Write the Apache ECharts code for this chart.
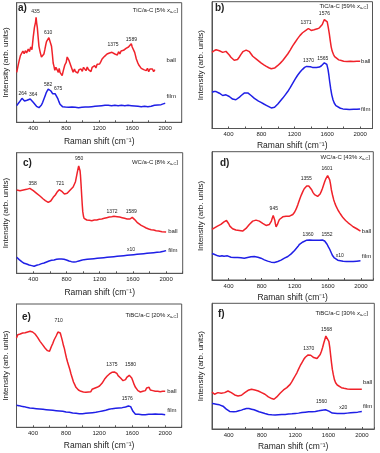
<!DOCTYPE html>
<html><head><meta charset="utf-8">
<script src="https://cdn.jsdelivr.net/npm/echarts@6/dist/echarts.min.js"></script>
<style>html,body{margin:0;padding:0;background:#fff}#c{width:380px;height:453px}</style>
</head><body><div id="c"></div>
<script>
// ---------- DATA (x = Raman shift cm-1, y = arbitrary intensity units) ----------
const xTickLabels = [400, 800, 1200, 1600, 2000];
const panelTags = ['a)', 'b)', 'c)', 'd)', 'e)', 'f)'];
const panelMaterials = ['TiC/a-C [5% ', 'TiC/a-C [59% ', 'WC/a-C [8% ', 'WC/a-C [43% ', 'TiBC/a-C [20% ', 'TiBC/a-C [30% '];

const aBall = [[200,150],[215,168],[230,185],[245,200],[260,196],[275,214],[290,206],[305,215],[320,208],[340,220],[355,212],[370,226],[385,218],[400,255],[415,285],[428,300],[435,315],[442,298],[450,284],[460,255],[470,228],[485,210],[500,196],[510,200],[520,190],[530,205],[541,218],[552,232],[561,242],[575,238],[590,254],[602,248],[612,255],[622,228],[632,205],[642,178],[652,168],[662,156],[675,165],[690,160],[705,150],[715,162],[725,150],[737,146],[751,140],[765,155],[783,172],[800,180],[812,196],[823,190],[835,185],[856,170],[870,160],[884,150],[900,160],[912,152],[924,158],[940,148],[955,158],[965,152],[980,160],[995,153],[1010,165],[1025,160],[1040,155],[1055,166],[1070,158],[1085,162],[1100,152],[1115,165],[1130,160],[1145,170],[1160,163],[1175,174],[1190,168],[1205,175],[1220,182],[1235,190],[1250,186],[1265,198],[1280,194],[1295,205],[1310,200],[1325,208],[1340,202],[1355,210],[1375,214],[1390,205],[1405,210],[1420,202],[1435,212],[1450,205],[1465,214],[1480,208],[1495,216],[1510,212],[1525,222],[1540,218],[1555,226],[1570,230],[1589,236],[1600,226],[1615,222],[1630,210],[1640,200],[1650,190],[1665,180],[1680,172],[1695,176],[1710,162],[1725,168],[1740,158],[1755,164],[1770,155],[1785,162],[1800,152],[1815,160],[1830,155],[1845,160],[1860,152],[1875,158]];
const aFilm = [[200,50],[215,56],[230,60],[245,66],[264,72],[280,68],[295,64],[310,68],[325,66],[345,70],[364,70],[380,64],[400,60],[420,54],[440,48],[455,46],[470,44],[485,48],[500,52],[515,60],[530,70],[545,80],[560,90],[572,96],[582,100],[595,102],[605,100],[615,94],[625,88],[635,86],[650,84],[665,86],[675,88],[688,80],[700,70],[712,62],[725,54],[740,50],[755,47],[770,49],[790,46],[810,48],[830,45],[850,48],[870,46],[890,48],[910,45],[930,47],[950,44],[970,47],[990,45],[1010,48],[1030,46],[1050,49],[1070,46],[1090,48],[1110,47],[1130,50],[1150,48],[1170,51],[1190,49],[1210,52],[1230,50],[1250,53],[1270,51],[1290,54],[1310,51],[1330,53],[1350,50],[1370,54],[1390,51],[1410,53],[1430,50],[1450,54],[1470,51],[1490,53],[1510,50],[1530,53],[1550,51],[1570,54],[1590,50],[1610,52],[1630,49],[1650,51],[1670,48],[1690,50],[1710,47],[1730,50],[1750,48],[1770,50],[1790,47],[1810,50],[1830,48],[1850,49],[1870,51],[1890,50],[1910,52],[1930,51],[1950,53],[1970,54],[1985,56],[2000,57]];
const aPeaks = [['435',428,332],['610',581,270],['1375',1368,232],['1589',1590,249],['264',271,87],['364',400,84],['582',581,112],['675',702,102]];
const aNames = [['ball',2073,187],['film',2073,77]];

const bBall = [[200,233],[225,238],[250,241],[270,239],[290,238],[310,235],[330,233],[350,236],[370,236],[390,230],[410,225],[430,218],[450,213],[470,209],[490,208],[510,211],[530,218],[550,226],[575,235],[595,239],[615,240],[635,238],[655,235],[675,228],[695,221],[715,216],[735,213],[765,207],[795,201],[830,195],[860,190],[890,186],[920,183],[940,183],[960,185],[980,188],[1000,193],[1030,200],[1060,208],[1090,218],[1120,228],[1150,240],[1180,253],[1210,264],[1240,275],[1270,285],[1300,293],[1320,297],[1340,300],[1355,303],[1371,306],[1390,303],[1405,300],[1420,301],[1440,302],[1460,303],[1480,305],[1505,308],[1525,312],[1540,318],[1552,326],[1565,333],[1576,336],[1588,333],[1600,326],[1612,310],[1625,290],[1637,268],[1648,250],[1660,237],[1675,227],[1690,220],[1710,215],[1740,210],[1770,208],[1800,206],[1840,205],[1880,206],[1920,205],[1960,206],[2000,206]];
const bFilm = [[200,111],[225,113],[250,113],[270,110],[290,108],[310,104],[330,101],[350,103],[370,103],[390,100],[410,98],[430,93],[450,90],[470,88],[490,88],[510,91],[530,95],[555,101],[575,106],[595,109],[615,110],[635,109],[655,106],[675,101],[695,96],[715,92],[735,88],[765,84],[795,80],[830,75],[860,71],[890,67],[920,63],[940,63],[960,65],[980,69],[1000,75],[1030,84],[1060,93],[1090,103],[1120,113],[1150,125],[1180,138],[1210,151],[1240,163],[1270,173],[1300,181],[1325,187],[1350,190],[1370,191],[1395,189],[1420,187],[1440,186],[1470,187],[1505,188],[1530,192],[1545,195],[1565,201],[1580,200],[1595,196],[1610,180],[1620,163],[1630,143],[1642,122],[1655,103],[1670,88],[1685,78],[1705,70],[1725,65],[1760,62],[1790,60],[1830,59],[1870,58],[1920,59],[1960,59],[2000,60]];
const bPeaks = [['1371',1343,323],['1576',1566,350],['1370',1372,208],['1565',1546,215]];
const bNames = [['ball',2068,205],['film',2068,58]];

const cBall = [[200,250],[220,249],[240,248],[260,250],[280,250],[300,251],[320,252],[340,254],[358,255],[380,252],[400,248],[420,244],[440,240],[460,236],[480,232],[500,228],[520,223],[545,218],[565,215],[580,213],[595,213],[610,217],[620,222],[640,228],[665,235],[685,243],[700,248],[712,251],[721,252],[735,249],[748,245],[760,242],[775,238],[790,235],[808,240],[825,245],[845,250],[865,255],[880,259],[895,265],[908,275],[920,290],[930,303],[940,315],[947,322],[952,323],[958,318],[963,308],[968,295],[975,268],[984,230],[990,205],[996,185],[1004,172],[1012,165],[1030,161],[1045,160],[1075,159],[1105,158],[1135,160],[1165,160],[1195,162],[1225,163],[1255,165],[1285,167],[1315,169],[1345,170],[1372,171],[1410,170],[1440,169],[1470,167],[1500,165],[1530,163],[1550,164],[1565,163],[1580,168],[1592,168],[1605,166],[1618,162],[1630,158],[1650,153],[1670,148],[1700,144],[1730,140],[1760,136],[1790,133],[1820,131],[1850,130],[1880,128],[1910,127],[1950,125],[2000,124]];
const cFilm = [[200,48],[215,45],[230,41],[245,38],[260,35],[275,34],[290,30],[305,31],[320,28],[335,27],[350,25],[365,27],[380,23],[395,24],[410,21],[425,25],[440,24],[455,28],[470,26],[485,30],[500,29],[515,33],[530,31],[545,36],[560,34],[575,39],[590,37],[605,41],[620,39],[635,43],[650,40],[665,44],[680,42],[695,46],[710,43],[725,47],[740,43],[755,46],[770,42],[785,44],[800,40],[815,42],[830,37],[845,39],[860,35],[875,38],[890,34],[905,37],[920,35],[935,39],[950,37],[965,41],[980,39],[995,43],[1010,41],[1030,45],[1050,42],[1070,46],[1090,43],[1110,47],[1130,44],[1150,48],[1170,45],[1190,49],[1210,46],[1230,50],[1250,47],[1270,51],[1290,48],[1310,52],[1330,49],[1350,53],[1370,50],[1390,54],[1410,51],[1430,55],[1450,52],[1470,56],[1490,53],[1510,57],[1530,54],[1550,58],[1570,55],[1590,59],[1610,56],[1630,60],[1650,57],[1670,61],[1690,58],[1710,62],[1730,59],[1750,63],[1770,60],[1790,64],[1810,61],[1830,65],[1850,62],[1870,66],[1890,63],[1910,67],[1930,64],[1950,68],[1970,66],[1985,70],[2000,68]];
const cPeaks = [['358',392,270],['721',723,270],['950',952,343],['1372',1348,185],['1589',1581,185],['x10',1577,70]];
const cNames = [['ball',2081,127],['film',2081,70]];

const dBall = [[200,153],[225,157],[246,161],[266,163],[287,165],[307,168],[327,171],[345,176],[360,180],[375,180],[388,178],[402,170],[416,163],[432,158],[449,155],[469,152],[489,151],[510,150],[530,150],[550,149],[570,148],[590,151],[611,156],[631,162],[651,168],[672,174],[692,178],[712,180],[732,181],[752,180],[772,178],[792,174],[813,171],[833,167],[853,165],[873,166],[894,168],[908,173],[918,178],[927,186],[934,191],[940,195],[946,196],[952,190],[959,181],[966,170],[975,161],[983,163],[991,168],[1003,176],[1015,183],[1035,188],[1056,191],[1076,192],[1096,193],[1117,193],[1137,193],[1157,195],[1177,198],[1198,205],[1218,215],[1238,228],[1258,243],[1278,256],[1299,268],[1315,276],[1331,281],[1345,284],[1355,286],[1370,284],[1388,281],[1405,273],[1420,265],[1440,258],[1461,253],[1477,253],[1493,255],[1507,260],[1521,268],[1535,277],[1550,288],[1562,297],[1574,305],[1586,311],[1598,316],[1610,312],[1623,303],[1633,290],[1643,273],[1657,257],[1671,243],[1687,231],[1704,221],[1724,211],[1744,203],[1765,195],[1785,188],[1815,180],[1846,173],[1876,167],[1906,161],[1950,155],[1995,148]];
const dFilm = [[200,80],[225,78],[246,75],[270,73],[295,72],[320,73],[345,72],[367,75],[387,73],[407,71],[430,69],[450,70],[468,68],[490,69],[510,68],[530,69],[550,67],[570,68],[590,66],[610,67],[630,68],[651,69],[672,70],[692,70],[712,71],[735,70],[755,69],[772,68],[792,66],[813,63],[833,61],[853,59],[873,57],[894,56],[915,54],[935,53],[955,53],[975,54],[995,56],[1015,58],[1035,60],[1056,63],[1076,66],[1096,68],[1117,71],[1137,75],[1157,79],[1177,83],[1198,89],[1218,95],[1238,101],[1258,108],[1278,112],[1299,115],[1320,118],[1340,120],[1360,121],[1380,121],[1400,120],[1420,120],[1440,119],[1460,120],[1481,119],[1500,120],[1520,121],[1534,121],[1548,120],[1562,118],[1577,114],[1591,108],[1607,100],[1623,93],[1639,84],[1655,75],[1675,68],[1696,63],[1720,60],[1744,58],[1785,57],[1825,56],[1865,56],[1906,56],[1950,57],[1995,58]];
const dPeaks = [['945',947,216],['1355',1339,306],['1601',1590,336],['1360',1360,136],['1552',1590,138],['x10',1744,75]];
const dNames = [['ball',2068,148],['film',2068,71]];

const eBall = [[200,268],[215,278],[230,283],[245,280],[260,286],[275,283],[290,288],[305,284],[320,290],[335,286],[350,292],[365,288],[380,291],[395,286],[410,286],[425,280],[440,278],[455,270],[470,264],[485,258],[500,254],[515,248],[530,245],[545,238],[560,236],[575,230],[590,232],[600,228],[612,236],[625,244],[640,252],[655,262],[668,266],[680,274],[692,280],[702,286],[710,292],[718,290],[730,283],[742,272],[755,260],[768,246],[780,236],[792,222],[805,208],[818,196],[830,186],[845,174],[860,160],[875,148],[890,136],[905,128],[920,120],[935,117],[950,112],[965,114],[980,108],[995,112],[1010,106],[1025,110],[1040,105],[1055,110],[1070,106],[1085,112],[1100,107],[1115,114],[1130,110],[1145,117],[1160,113],[1175,120],[1190,118],[1205,124],[1220,126],[1235,132],[1250,136],[1265,144],[1280,148],[1295,153],[1310,155],[1325,160],[1340,158],[1355,165],[1370,161],[1385,166],[1400,160],[1415,162],[1430,155],[1445,154],[1460,148],[1475,146],[1490,140],[1505,144],[1520,143],[1535,150],[1550,150],[1565,156],[1580,155],[1595,148],[1610,138],[1625,128],[1640,120],[1655,116],[1670,110],[1685,112],[1700,106],[1715,112],[1730,108],[1745,114],[1760,110],[1775,118],[1790,114],[1805,120],[1820,112],[1835,117],[1850,110],[1865,115],[1880,108],[1895,114],[1910,108],[1925,113],[1940,107],[1955,112],[1970,108],[1985,112],[2000,108]];
const eFilm = [[200,66],[215,62],[230,65],[245,60],[260,63],[275,58],[290,62],[305,56],[320,60],[340,55],[360,58],[380,53],[400,57],[420,52],[440,56],[460,51],[480,55],[500,50],[520,54],[540,49],[560,53],[580,48],[600,52],[620,47],[640,51],[660,46],[680,50],[700,45],[720,49],[740,44],[760,48],[780,43],[800,46],[820,41],[840,45],[860,40],[880,43],[900,38],[920,42],[940,37],[960,41],[980,36],[1000,41],[1020,37],[1040,42],[1060,38],[1080,43],[1100,38],[1120,44],[1140,40],[1160,45],[1180,42],[1200,47],[1220,44],[1240,49],[1260,47],[1280,51],[1300,49],[1320,54],[1340,51],[1360,56],[1380,52],[1400,57],[1420,53],[1440,58],[1460,54],[1480,59],[1500,56],[1520,61],[1540,60],[1555,64],[1570,66],[1582,62],[1595,56],[1610,48],[1625,42],[1640,39],[1660,36],[1680,39],[1700,34],[1720,38],[1740,33],[1760,38],[1780,34],[1800,39],[1820,34],[1840,39],[1860,35],[1880,40],[1900,35],[1920,39],[1940,35],[1960,39],[1980,36],[2000,38]];
const ePeaks = [['710',710,319],['1375',1355,189],['1580',1581,189],['1576',1541,87]];
const eNames = [['ball',2081,109],['film',2081,52]];

const fBall = [[200,112],[215,107],[230,105],[250,108],[271,110],[290,109],[311,108],[330,109],[352,110],[372,113],[392,115],[412,113],[432,110],[452,106],[473,103],[493,101],[513,100],[534,101],[554,102],[574,106],[594,110],[614,114],[634,117],[655,119],[675,120],[695,119],[715,118],[735,117],[756,115],[776,113],[796,110],[816,108],[836,105],[856,101],[877,97],[897,94],[917,92],[930,91],[945,90],[960,93],[978,97],[998,102],[1018,108],[1038,113],[1059,118],[1079,122],[1099,125],[1119,130],[1139,135],[1160,143],[1180,152],[1200,161],[1220,170],[1240,181],[1261,192],[1281,201],[1301,210],[1321,217],[1341,222],[1355,224],[1370,225],[1386,223],[1402,220],[1422,216],[1442,212],[1462,213],[1483,218],[1500,225],[1515,235],[1530,247],[1543,260],[1555,270],[1568,281],[1580,283],[1592,279],[1604,265],[1616,245],[1626,222],[1636,200],[1646,180],[1657,165],[1670,150],[1685,140],[1705,133],[1725,128],[1755,125],[1786,123],[1826,121],[1867,120],[1930,120],[2000,120]];
const fFilm = [[200,77],[225,76],[250,75],[270,74],[290,73],[311,72],[332,69],[352,65],[372,60],[392,55],[412,53],[432,52],[462,52],[493,53],[523,55],[554,57],[584,60],[614,62],[644,62],[675,60],[705,58],[735,55],[765,52],[796,50],[836,47],[877,44],[917,43],[958,42],[998,43],[1038,44],[1079,44],[1119,45],[1160,46],[1200,47],[1240,48],[1281,50],[1321,51],[1362,52],[1402,52],[1442,53],[1483,55],[1523,57],[1545,58],[1564,58],[1584,57],[1604,54],[1625,50],[1645,48],[1665,47],[1705,47],[1745,47],[1786,47],[1826,48],[1866,49],[1907,50],[1950,51],[2000,53]];
const fPeaks = [['1370',1362,242],['1568',1576,300],['1560',1515,82],['x20',1778,65]];
const fNames = [['ball',2069,140],['film',2069,70]];

// ---------- LAYOUT ----------
const layout = [
  {l:16.7, t:2.7, r:181.7, b:122.3, xmin:200, xmax:2200, ymax:359, gap:15, tagL:18, tagT:3, ttlR:202, ttlT:6},
  {l:212, t:1.7, r:372.5, b:128.5, xmin:200, xmax:2150, ymax:388, gap:13, tagL:215, tagT:3, ttlR:12, ttlT:2},
  {l:16.7, t:152.7, r:182.7, b:273.3, xmin:200, xmax:2200, ymax:362, gap:15, tagL:23, tagT:158, ttlR:202, ttlT:158},
  {l:212, t:151.7, r:373.3, b:280, xmin:200, xmax:2150, ymax:388, gap:13, tagL:220, tagT:158, ttlR:10, ttlT:153},
  {l:16.5, t:304, r:181.7, b:427.3, xmin:200, xmax:2200, ymax:370, gap:14, tagL:22, tagT:312, ttlR:202, ttlT:311},
  {l:212, t:303.3, r:374.3, b:429, xmin:200, xmax:2150, ymax:380, gap:13, tagL:218, tagT:309, ttlR:12, ttlT:309},
];
const series = [[aBall,aFilm,aPeaks,aNames],[bBall,bFilm,bPeaks,bNames],[cBall,cFilm,cPeaks,cNames],[dBall,dFilm,dPeaks,dNames],[eBall,eFilm,ePeaks,eNames],[fBall,fFilm,fPeaks,fNames]];

const RED = '#f0222a', BLUE = '#1f1fe6', TXT = '#222';
const FONT = '"Liberation Sans", Arial, sans-serif';

const opt = {animation:false, backgroundColor:'#fff', textStyle:{fontFamily:FONT},
  grid:[], xAxis:[], yAxis:[], series:[], title:[]};

layout.forEach((L, i) => {
  opt.grid.push({left:L.l, top:L.t, width:L.r-L.l, height:L.b-L.t, show:true, borderColor:'#555', borderWidth:1, containLabel:false});
  opt.xAxis.push({gridIndex:i, type:'value', min:L.xmin, max:L.xmax, interval:200,
    axisLine:{show:true, lineStyle:{color:'#555', width:1}},
    axisTick:{show:true, inside:true, length:2, lineStyle:{color:'#555'}},
    splitLine:{show:false},
    axisLabel:{fontSize:6, color:TXT, margin:3, fontFamily:FONT, formatter: v => xTickLabels.includes(v) ? String(v) : ''},
    name:'Raman shift (cm⁻¹)', nameLocation:'middle', nameGap:L.gap,
    nameTextStyle:{fontSize:8.5, color:TXT, fontFamily:FONT}});
  opt.yAxis.push({gridIndex:i, type:'value', min:0, max:L.ymax,
    axisLine:{show:true, lineStyle:{color:'#555'}}, axisTick:{show:false}, axisLabel:{show:false}, splitLine:{show:false},
    name:'Intensity (arb. units)', nameLocation:'middle', nameGap:7, nameRotate:90,
    nameTextStyle:{fontSize:8, color:TXT, fontFamily:FONT}});
  const [ball, film, peaks, names] = series[i];
  const lbl = (arr, fs) => ({symbol:'circle', symbolSize:0, silent:true,
    label:{show:true, position:'inside', formatter:'{b}', fontSize:fs, color:TXT, fontFamily:FONT},
    data: arr.map(p => ({name:p[0], coord:[p[1], p[2]]}))});
  opt.series.push({type:'line', xAxisIndex:i, yAxisIndex:i, data:ball, showSymbol:false,
    lineStyle:{color:RED, width:1.5}, itemStyle:{color:RED}, markPoint: lbl(peaks, 5)});
  opt.series.push({type:'line', xAxisIndex:i, yAxisIndex:i, data:film, showSymbol:false,
    lineStyle:{color:BLUE, width:1.5}, itemStyle:{color:BLUE}, markPoint: lbl(names, 6)});
  opt.title.push({text:panelTags[i], left:L.tagL, top:L.tagT, padding:0,
    textStyle:{fontSize:10, fontWeight:'bold', color:TXT, fontFamily:FONT}});
  opt.title.push({text: panelMaterials[i] + '{i|x}{s|a-C}]', right:L.ttlR, top:L.ttlT, padding:0,
    textStyle:{fontSize:6, fontWeight:'normal', color:TXT, fontFamily:FONT,
      rich:{i:{fontSize:6, fontStyle:'italic', color:TXT, fontFamily:FONT}, s:{fontSize:4, color:TXT, padding:[4,0,0,0], fontFamily:FONT}}}});
});

const chart = echarts.init(document.getElementById('c'), null, {renderer:'canvas'});
chart.setOption(opt);
</script></body></html>
